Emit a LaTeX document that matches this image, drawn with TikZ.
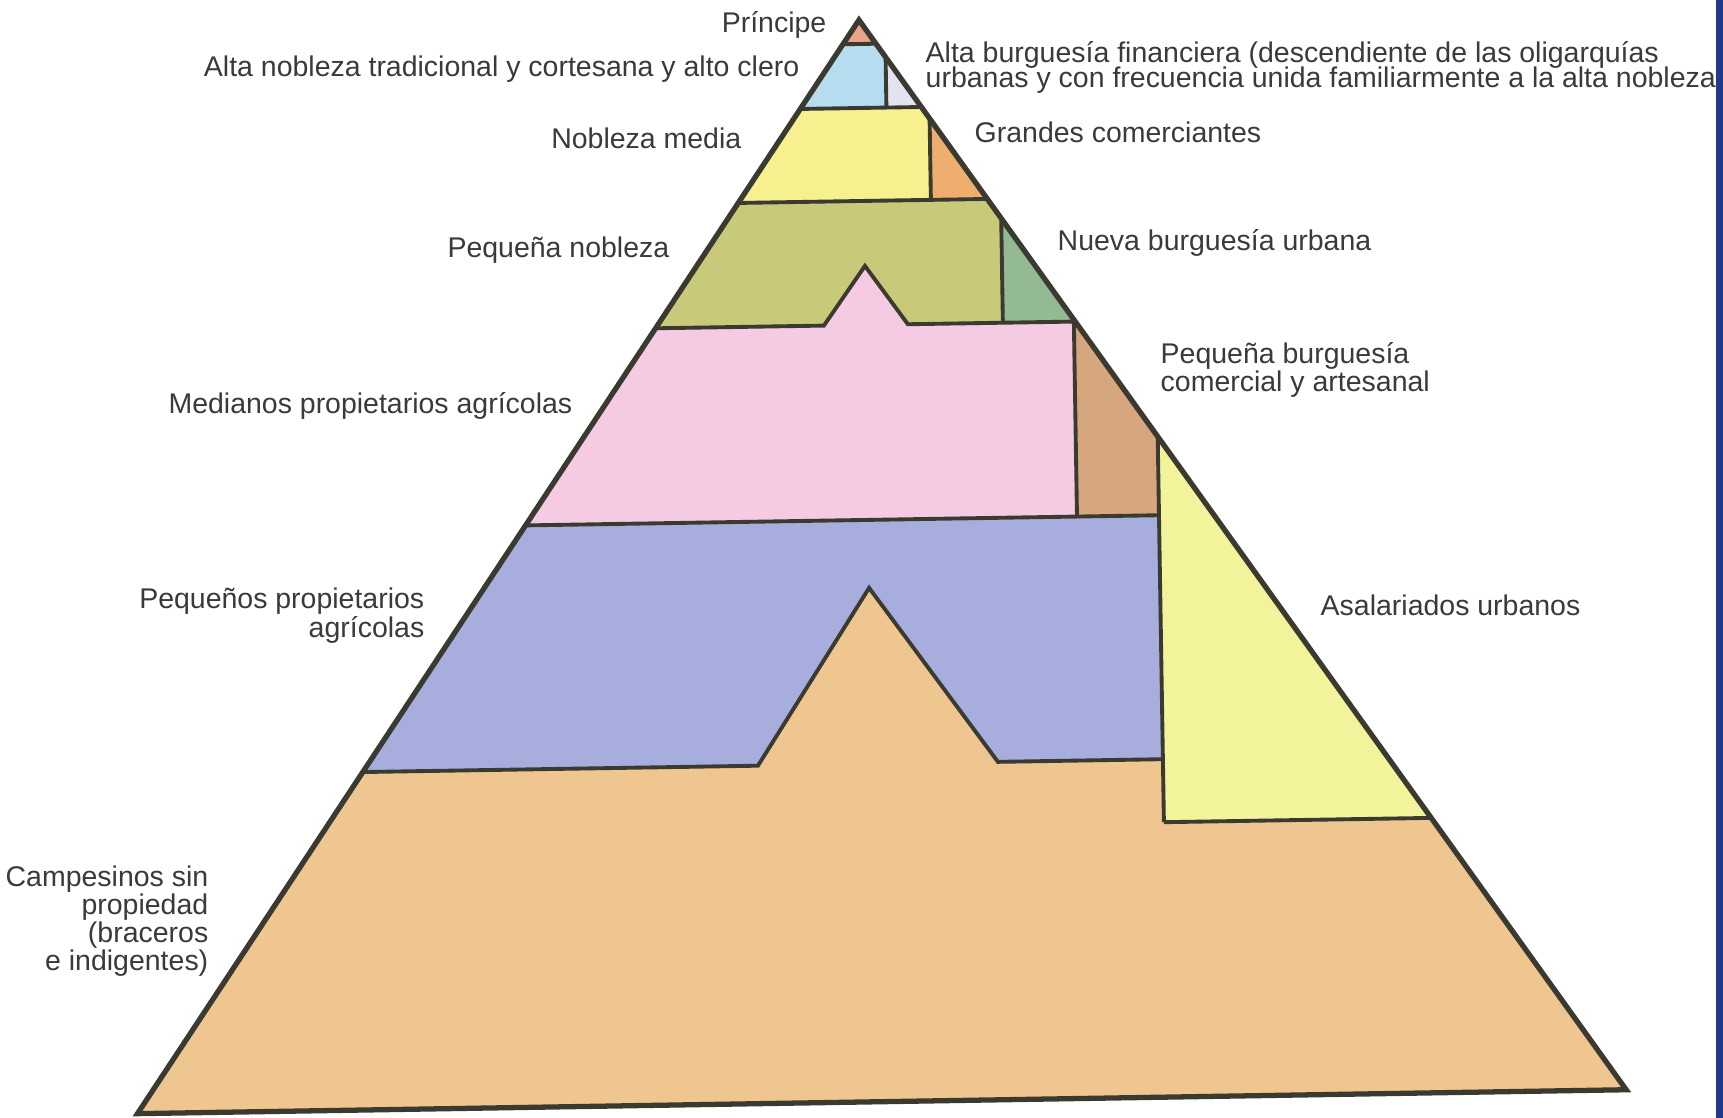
\documentclass[tikz,border=0pt]{standalone}
\usepackage{fontspec}
\setmainfont{Liberation Sans}
\setlength{\lineskiplimit}{-20pt}
\definecolor{edgecol}{HTML}{3B3A30}
\definecolor{labelgray}{HTML}{3A3A3A}
\definecolor{principecol}{HTML}{E9A58A}
\definecolor{altanoblezacol}{HTML}{B5DCEF}
\definecolor{altaburguesiacol}{HTML}{E1E3EE}
\definecolor{noblezamediacol}{HTML}{F6F08E}
\definecolor{grandescol}{HTML}{EFAE6E}
\definecolor{pnoblezacol}{HTML}{C9C97A}
\definecolor{nuevacol}{HTML}{94BA93}
\definecolor{medianoscol}{HTML}{F4CBE3}
\definecolor{pburguesiacol}{HTML}{D6A67E}
\definecolor{pequenoscol}{HTML}{A7ADDD}
\definecolor{asalariadoscol}{HTML}{F3F39B}
\definecolor{campesinoscol}{HTML}{EFC690}
\definecolor{bandcol}{HTML}{1F3A8C}
\tikzset{
  lbl/.style={font=\fontsize{8.1}{7.6}\selectfont, text=labelgray, inner sep=0pt},
  divline/.style={draw=edgecol, line width=1.1pt},
  outline/.style={draw=edgecol, line width=1.5pt}
}
\begin{document}
\begin{tikzpicture}[x=0.01cm,y=-0.01cm]
\useasboundingbox (0,0) rectangle (1723,1118);
\fill[white] (0,0) rectangle (1723,1118);
\begin{scope}[rotate around={0.92:(859,20)}]
\coordinate (apex) at (859,20);
\coordinate (baseleft) at (120,1102);
\coordinate (baseright) at (1609,1102);
\begin{scope}
\clip (apex) -- (baseleft) -- (baseright) -- cycle;
\fill[campesinoscol] (0,0) rectangle (1800,1200);
\fill[pequenoscol] (0,520) -- (1151,520) -- (1151,764) -- (986,764) -- (860,588) -- (746,764) -- (0,764) -- cycle;
\fill[asalariadoscol] (1151,400) rectangle (1800,827);
\fill[pburguesiacol] (1069,325) rectangle (1151,520);
\fill[medianoscol] (0,325) -- (819,325) -- (861,266) -- (903,325) -- (1069,325) -- (1069,520) -- (0,520) -- cycle;
\fill[pnoblezacol] (0,201) -- (998,201) -- (998,325) -- (903,325) -- (861,266) -- (819,325) -- (0,325) -- cycle;
\fill[nuevacol] (998,201) rectangle (1800,325);
\fill[noblezamediacol] (0,108) rectangle (928,201);
\fill[grandescol] (928,108) rectangle (1800,201);
\fill[altanoblezacol] (0,44) rectangle (885,108);
\fill[altaburguesiacol] (885,44) rectangle (1800,108);
\fill[principecol] (0,0) rectangle (1800,44);
\draw[divline] (0,44) -- (1800,44);
\draw[divline] (0,108) -- (1800,108);
\draw[divline] (885,44) -- (885,108);
\draw[divline] (0,201) -- (1800,201);
\draw[divline] (928,108) -- (928,201);
\draw[divline] (0,325) -- (819,325) -- (861,266) -- (903,325) -- (1800,325);
\draw[divline] (998,201) -- (998,325);
\draw[divline] (1069,325) -- (1069,520);
\draw[divline] (0,520) -- (1151,520);
\draw[divline] (1151,400) -- (1151,827);
\draw[divline] (0,764) -- (746,764) -- (860,588) -- (986,764) -- (1151,764);
\draw[divline] (1151,827) -- (1800,827);
\end{scope}
\draw[outline] (apex) -- (baseleft) -- (baseright) -- cycle;
\end{scope}
\node (principe) at (827,32) [lbl, anchor=base east] {Príncipe};
\node (altanobleza) at (800,77) [lbl, anchor=base east] {Alta nobleza tradicional y cortesana y alto clero};
\node (altaburguesia) at (925,41) [lbl, anchor=north west, align=left, font=\fontsize{8.1}{7.0}\selectfont] {Alta burguesía financiera (descendiente de las oligarquías\\urbanas y con frecuencia unida familiarmente a la alta nobleza};
\node (noblezamedia) at (742,148) [lbl, anchor=base east] {Nobleza media};
\node (grandes) at (974,143) [lbl, anchor=base west] {Grandes comerciantes};
\node (pnobleza) at (670,258) [lbl, anchor=base east] {Pequeña nobleza};
\node (nueva) at (1057,250) [lbl, anchor=base west] {Nueva burguesía urbana};
\node (pburguesia) at (1160,342) [lbl, anchor=north west, align=left, font=\fontsize{8.1}{7.9}\selectfont] {Pequeña burguesía\\comercial y artesanal};
\node (medianos) at (573,413) [lbl, anchor=base east] {Medianos propietarios agrícolas};
\node (pequenos) at (425,587) [lbl, anchor=north east, align=right, font=\fontsize{8.1}{8.4}\selectfont] {Pequeños propietarios\\agrícolas};
\node (asalariados) at (1320,615) [lbl, anchor=base west] {Asalariados urbanos};
\node (campesinos) at (209,865) [lbl, anchor=north east, align=right, font=\fontsize{8.1}{8.0}\selectfont] {Campesinos sin\\propiedad\\(braceros\\e indigentes)};
\fill[bandcol] (1716,0) rectangle (1723,1118);
\end{tikzpicture}
\end{document}
